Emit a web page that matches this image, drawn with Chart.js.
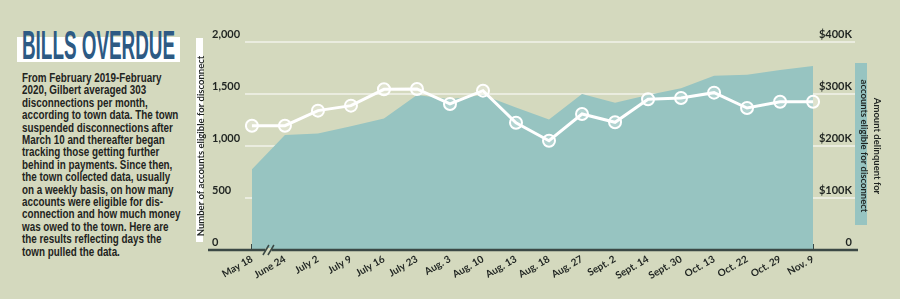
<!DOCTYPE html>
<html>
<head>
<meta charset="utf-8">
<script src="https://cdn.jsdelivr.net/npm/chart.js@4.4.0/dist/chart.umd.min.js"></script>
<style>
  body { margin: 0; width: 900px; height: 299px; overflow: hidden; position: relative; background: #d4d9be; font-family: "Liberation Sans", sans-serif; }
  #box { position: absolute; left: 17px; top: 37px; width: 163px; height: 25px; background: #fff; }
  #title { position: absolute; left: 22px; top: 22px; font-weight: bold; font-size: 41px; color: #2d5a84; transform: scaleX(0.46); transform-origin: 0 0; white-space: nowrap; }
  #text { position: absolute; left: 22px; top: 72px; font-size: 12px; line-height: 12.4px; font-weight: bold; color: #1f2421; white-space: pre; transform: scaleX(0.82); transform-origin: 0 0; }
  #wrap { position: absolute; left: 190px; top: 0; width: 710px; height: 299px; }
</style>
</head>
<body>
<div id="box"></div>
<div id="title">BILLS OVERDUE</div>
<div id="text">From February 2019-February
2020, Gilbert averaged 303
disconnections per month,
according to town data. The town
suspended disconnections after
March 10 and thereafter began
tracking those getting further
behind in payments. Since then,
the town collected data, usually
on a weekly basis, on how many
accounts were eligible for dis-
connection and how much money
was owed to the town. Here are
the results reflecting days the
town pulled the data.</div>
<div id="wrap"><canvas id="myChart" width="710" height="299"></canvas></div>
<script>
var labels = ['May 18', 'June 24', 'July 2', 'July 9', 'July 16', 'July 23', 'Aug. 3', 'Aug. 10', 'Aug. 13',
  'Aug. 18', 'Aug. 27', 'Sept. 2', 'Sept. 14', 'Sept. 30', 'Oct. 13', 'Oct. 22', 'Oct. 29', 'Nov. 9'];
var accounts = [1195, 1195, 1340, 1388, 1545, 1548, 1404, 1532, 1224, 1051, 1308, 1228, 1449, 1462, 1513, 1365, 1426, 1426];
var amountK = [155, 221, 224, 238, 253, 298, 290, 298, 274, 251, 300, 283, 298, 311, 335, 337, 346, 354];
var leftTicks = [0, 500, 1000, 1500, 2000];
var rightTicks = [0, 100, 200, 300, 400];

var bg = '#d4d9be';
var teal = '#97c4c1';
var dark = '#1f2421';
var axisCol = '#3b4845';
var narrow = 'Lato, "Liberation Sans", sans-serif';

// white / teal strips behind the axis titles, baseline with break mark
var decor = {
  id: 'decor',
  beforeDraw: function (chart) {
    var c = chart.ctx, a = chart.chartArea, yt = chart.scales.yt, y2 = chart.scales.y2;
    c.save();
    c.fillStyle = '#ffffff';
    c.fillRect(yt.left, a.top - 4, 7, a.bottom - a.top - 4);
    c.fillStyle = teal;
    c.fillRect(y2.left, a.top + 21, 12, 162);
    c.restore();
  },
  afterDraw: function (chart) {
    var c = chart.ctx, a = chart.chartArea, x = chart.scales.x, yt = chart.scales.yt;
    var y0 = chart.scales.y.getPixelForValue(0);
    c.save();
    c.strokeStyle = axisCol;
    c.lineWidth = 2.5;
    c.beginPath();
    c.moveTo(yt.left + 12, y0);
    c.lineTo(a.right + 3, y0);
    c.stroke();
    var bx = (x.getPixelForValue(0) + x.getPixelForValue(1)) / 2;
    c.fillStyle = bg;
    c.fillRect(bx - 3, y0 - 2, 6, 4);
    c.lineWidth = 1.5;
    [-2.5, 2.5].forEach(function (k) {
      c.beginPath();
      c.moveTo(bx + k - 3, y0 + 5);
      c.lineTo(bx + k + 3, y0 - 5);
      c.stroke();
    });
    c.restore();
  }
};

var ctx = document.getElementById('myChart').getContext('2d');
var myChart = new Chart(ctx, {
  type: 'line',
  data: {
    datasets: [
      {
        label: 'Accounts',
        data: accounts.map(function (v, i) { return { x: i, y: v }; }),
        yAxisID: 'y',
        borderColor: '#ffffff',
        borderWidth: 3,
        pointRadius: 6,
        pointBorderWidth: 2,
        pointBorderColor: '#ffffff',
        pointBackgroundColor: 'rgba(255,255,255,0.25)',
        fill: false
      },
      {
        label: 'Amount',
        data: amountK.map(function (v, i) { return { x: i, y: v }; }),
        yAxisID: 'y2',
        borderWidth: 0,
        pointRadius: 0,
        backgroundColor: teal,
        fill: 'origin'
      }
    ]
  },
  options: {
    responsive: false,
    animation: false,
    events: [],
    layout: { padding: { left: 6, right: 17, top: 42, bottom: 0 } },
    plugins: { legend: { display: false }, tooltip: { enabled: false } },
    scales: {
      x: {
        type: 'linear',
        min: -0.21,
        max: 18.27,
        z: 1,
        afterBuildTicks: function (s) { s.ticks = labels.map(function (l, i) { return { value: i }; }); },
        afterFit: function (s) { s.height = 49; },
        border: { display: false },
        grid: { drawOnChartArea: false, drawTicks: true, tickLength: -6, color: axisCol, lineWidth: 2 },
        ticks: {
          autoSkip: false,
          minRotation: 30,
          maxRotation: 30,
          padding: 9,
          color: dark,
          font: { family: narrow, weight: 'bold', size: 10 },
          callback: function (v) { return labels[v]; }
        }
      },
      y: {
        position: 'left',
        min: 0,
        max: 2000,
        z: 1,
        afterBuildTicks: function (s) { s.ticks = leftTicks.map(function (v) { return { value: v }; }); },
        afterFit: function (s) { s.width = 33; },
        border: { display: false },
        grid: { color: 'rgba(255,255,255,0.5)', lineWidth: 2, drawTicks: false },
        ticks: {
          crossAlign: 'far',
          labelOffset: -8,
          color: dark,
          font: { family: narrow, weight: 'bold', size: 11 },
          callback: function (v) { return v.toLocaleString('en-US'); }
        }
      },
      yt: {
        type: 'linear',
        position: 'left',
        afterFit: function (s) { s.width = 16; },
        border: { display: false },
        grid: { display: false },
        ticks: { display: false },
        title: {
          display: true,
          text: 'Number of accounts eligible for disconnect',
          color: dark,
          padding: 0,
          font: { family: narrow, weight: 'bold', size: 9.5, lineHeight: 1 }
        }
      },
      y2: {
        position: 'right',
        min: 0,
        max: 400,
        afterBuildTicks: function (s) { s.ticks = rightTicks.map(function (v) { return { value: v }; }); },
        afterFit: function (s) { s.width = 28; },
        border: { display: false },
        grid: { display: false, drawTicks: false },
        ticks: {
          mirror: true,
          padding: -3,
          labelOffset: -8,
          color: dark,
          font: { family: narrow, weight: 'bold', size: 11 },
          callback: function (v) { return v === 0 ? '0' : '$' + v + 'K'; }
        },
        title: {
          display: true,
          text: ['Amount delinquent for', 'accounts eligible for disconnect'],
          color: dark,
          padding: 0,
          font: { family: narrow, weight: 'bold', size: 9.5, lineHeight: 1.3 }
        }
      }
    }
  },
  plugins: [decor]
});
</script>
</body>
</html>
